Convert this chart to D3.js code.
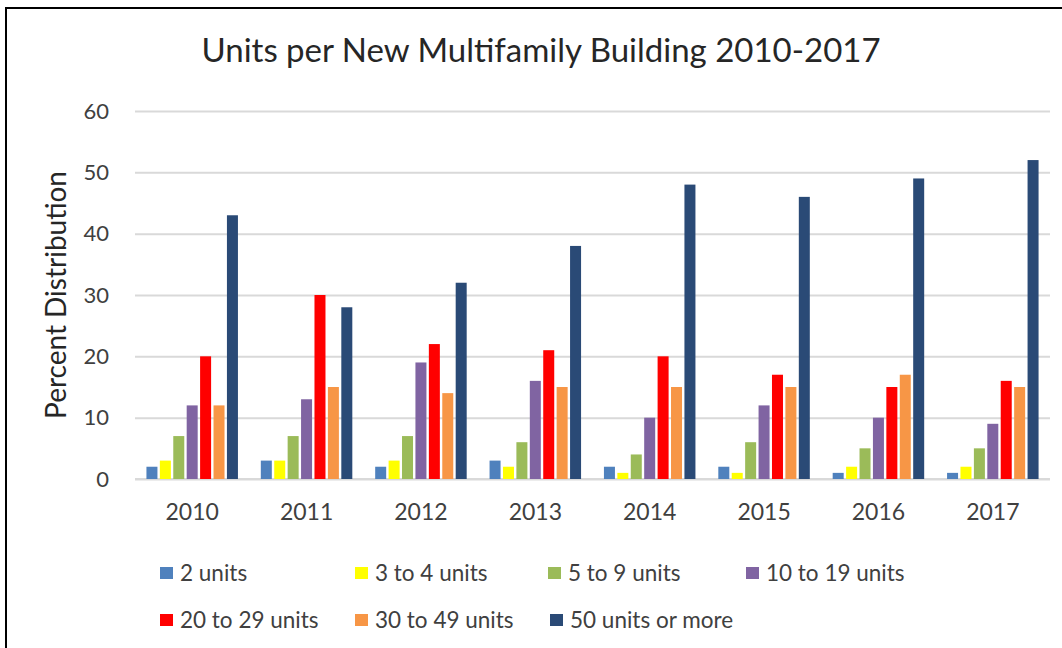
<!DOCTYPE html>
<html>
<head>
<meta charset="utf-8">
<script src="https://cdn.jsdelivr.net/npm/d3@7"></script>
<style>
  html, body { margin: 0; padding: 0; background: #fff; }
  svg { display: block; }
  text { font-family: Lato, "Open Sans", sans-serif; }
</style>
</head>
<body>
<svg id="chart" width="1062" height="648"></svg>
<script>
const years = ["2010", "2011", "2012", "2013", "2014", "2015", "2016", "2017"];
const seriesNames = ["2 units", "3 to 4 units", "5 to 9 units", "10 to 19 units",
                     "20 to 29 units", "30 to 49 units", "50 units or more"];
const seriesColors = ["#4F81BD", "#FFFF00", "#9BBB59", "#8064A2", "#FF0000", "#F79646", "#2A4A76"];
const units2      = [2, 3, 2, 3, 2, 2, 1, 1];
const units3to4   = [3, 3, 3, 2, 1, 1, 2, 2];
const units5to9   = [7, 7, 7, 6, 4, 6, 5, 5];
const units10to19 = [12, 13, 19, 16, 10, 12, 10, 9];
const units20to29 = [20, 30, 22, 21, 20, 17, 15, 16];
const units30to49 = [12, 15, 14, 15, 15, 15, 17, 15];
const units50plus = [43, 28, 32, 38, 48, 46, 49, 52];
const yTicks = [0, 10, 20, 30, 40, 50, 60];

const seriesValues = [units2, units3to4, units5to9, units10to19, units20to29, units30to49, units50plus];

const svg = d3.select("#chart");

// frame
svg.append("path")
  .attr("d", "M6,648 L6,8 L1062,8")
  .attr("fill", "none").attr("stroke", "#000").attr("stroke-width", 2);

const plot = { left: 135, right: 1050, top: 111, bottom: 479 };

const x0 = d3.scaleBand().domain(years).range([plot.left, plot.right]).paddingInner(0.2).paddingOuter(0.1);
const x1 = d3.scaleBand().domain(seriesNames).range([0, x0.bandwidth()]).paddingInner(0.18);
const y = d3.scaleLinear().domain([0, 60]).range([plot.bottom, plot.top]);

// title
svg.append("text")
  .attr("x", 541).attr("y", 62)
  .attr("text-anchor", "middle")
  .attr("font-size", 33).attr("fill", "#262626")
  .text("Units per New Multifamily Building 2010-2017");

// gridlines
const yAxis = d3.axisLeft(y).tickValues(yTicks).tickSize(-(plot.right - plot.left)).tickPadding(26);
const gy = svg.append("g").attr("transform", `translate(${plot.left},0)`).call(yAxis);
gy.select(".domain").remove();
gy.selectAll(".tick line").attr("stroke", "#D9D9D9").attr("stroke-width", 2);
gy.selectAll(".tick text").attr("font-size", 22).attr("fill", "#404040")
  .attr("font-family", "Lato, 'Open Sans', sans-serif");

// x axis
const xAxis = d3.axisBottom(x0).tickSize(0).tickPadding(25);
const gx = svg.append("g").attr("transform", `translate(0,${plot.bottom})`).call(xAxis);
gx.select(".domain").attr("stroke", "#D9D9D9").attr("stroke-width", 2)
  .attr("d", `M${plot.left},0H${plot.right}`);
gx.selectAll(".tick text").attr("font-size", 23).attr("fill", "#404040")
  .attr("font-family", "Lato, 'Open Sans', sans-serif");

// bars
const groups = svg.append("g").selectAll("g")
  .data(years)
  .join("g")
  .attr("transform", d => `translate(${x0(d)},0)`);

groups.selectAll("rect")
  .data((yr, i) => seriesNames.map((s, j) => ({ s, v: seriesValues[j][i], c: seriesColors[j] })))
  .join("rect")
  .attr("x", d => x1(d.s))
  .attr("width", x1.bandwidth())
  .attr("y", d => y(d.v))
  .attr("height", d => y(0) - y(d.v))
  .attr("fill", d => d.c);

// y axis title
svg.append("text")
  .attr("transform", "translate(66,295) rotate(-90)")
  .attr("text-anchor", "middle")
  .attr("font-size", 28).attr("fill", "#262626")
  .text("Percent Distribution");

// legend
const legendPos = [[160, 573], [355, 573], [548, 573], [746, 573],
                   [160, 620], [355, 620], [550, 620]];
const leg = svg.append("g").selectAll("g")
  .data(seriesNames)
  .join("g")
  .attr("transform", (d, i) => `translate(${legendPos[i][0]},${legendPos[i][1]})`);
leg.append("rect").attr("x", 0).attr("y", -6).attr("width", 13).attr("height", 12)
  .attr("fill", (d, i) => seriesColors[i]);
leg.append("text").attr("x", 20).attr("y", 8)
  .attr("font-size", 22.5).attr("fill", "#404040")
  .text(d => d);
</script>
</body>
</html>
